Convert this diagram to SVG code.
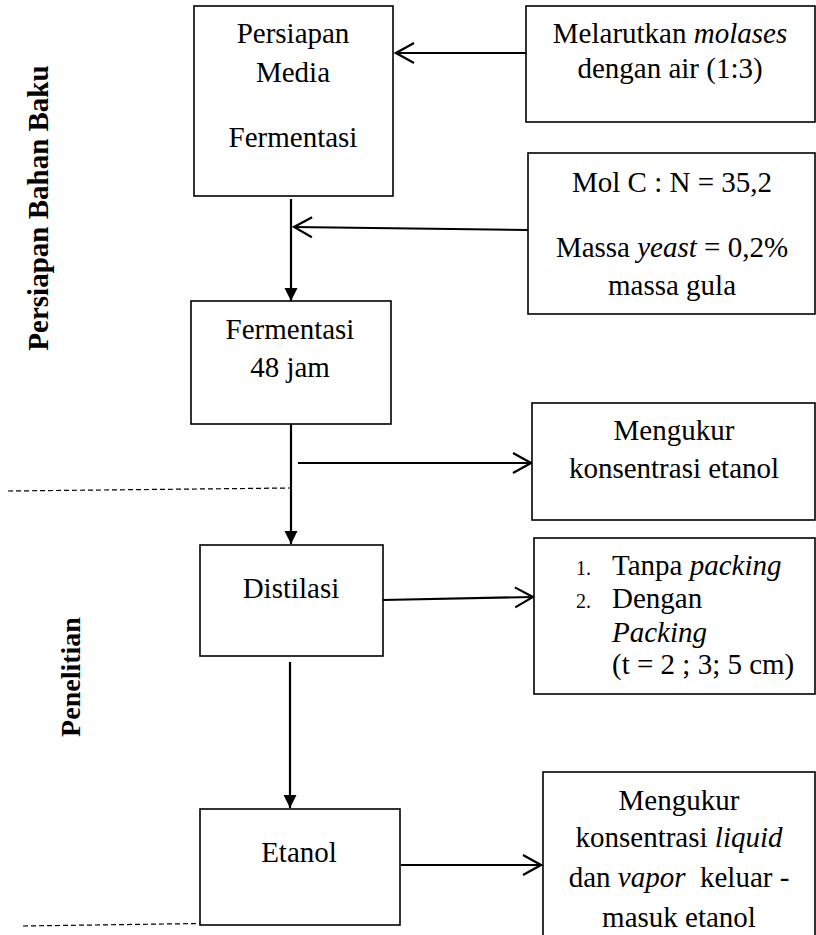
<svg xmlns="http://www.w3.org/2000/svg" width="816" height="935" viewBox="0 0 816 935">
<style>
.box{fill:#fff;stroke:#000;stroke-width:1.6}
.t{font-family:"Liberation Serif","Times New Roman",serif;font-size:29px;fill:#000;text-anchor:middle}
.l{text-anchor:start}
.n{font-size:20px;text-anchor:start}
.i{font-style:italic}
.lab{font-family:"Liberation Serif","Times New Roman",serif;font-weight:bold;fill:#000;text-anchor:middle}
.c{fill:none;stroke:#000;stroke-width:2.2}
.d{fill:none;stroke:#000;stroke-width:1.2;stroke-dasharray:5 3}
</style>
<defs>
<marker id="open" markerUnits="userSpaceOnUse" viewBox="-21 -12 23 24" refX="0" refY="0" markerWidth="23" markerHeight="24" orient="auto">
<path d="M-18,-10 L0,0 L-18,10" fill="none" stroke="#000" stroke-width="2.2"/>
</marker>
<marker id="fill" markerUnits="userSpaceOnUse" viewBox="-14 -8 15 16" refX="0" refY="0" markerWidth="15" markerHeight="16" orient="auto">
<path d="M-13,-6.5 L0,0 L-13,6.5 Z" fill="#000"/>
</marker>
</defs>
<g id="labels">
<text class="lab" font-size="29" transform="translate(48,208) rotate(-90)">Persiapan Bahan Baku</text>
<text class="lab" font-size="28" transform="translate(80,677) rotate(-90)">Penelitian</text>
</g>
<g id="connectors">
<path class="c" d="M526,53 L396,53" marker-end="url(#open)"/>
<path class="c" d="M528,230 L294,227" marker-end="url(#open)"/>
<path class="c" d="M291,199 L291,301" marker-end="url(#fill)"/>
<path class="c" d="M291,424 L291,544" marker-end="url(#fill)"/>
<path class="c" d="M298,463 L531,463" marker-end="url(#open)"/>
<path class="c" d="M383,600 L533,597" marker-end="url(#open)"/>
<path class="c" d="M290,662 L290,808" marker-end="url(#fill)"/>
<path class="c" d="M401,865 L541,865" marker-end="url(#open)"/>
<path class="d" d="M8,491 L290,488"/>
<path class="d" d="M23,926 L307,922"/>
</g>
<g id="n1">
<rect class="box" x="194" y="6" width="199" height="190"/>
<text class="t" x="293" y="43">Persiapan</text>
<text class="t" x="293" y="82">Media</text>
<text class="t" x="293" y="147">Fermentasi</text>
</g>
<g id="n2">
<rect class="box" x="526" y="6" width="289" height="116"/>
<text class="t" x="670" y="43">Melarutkan <tspan class="i">molases</tspan></text>
<text class="t" x="670" y="78">dengan air (1:3)</text>
</g>
<g id="n3">
<rect class="box" x="528" y="153" width="287" height="161"/>
<text class="t" x="672" y="192">Mol C : N = 35,2</text>
<text class="t" x="672" y="257">Massa <tspan class="i">yeast</tspan> = 0,2%</text>
<text class="t" x="672" y="295">massa gula</text>
</g>
<g id="n4">
<rect class="box" x="191" y="301" width="200" height="123"/>
<text class="t" x="290" y="339">Fermentasi</text>
<text class="t" x="290" y="377">48 jam</text>
</g>
<g id="n5">
<rect class="box" x="532" y="403" width="283" height="117"/>
<text class="t" x="674" y="440">Mengukur</text>
<text class="t" x="674" y="478">konsentrasi etanol</text>
</g>
<g id="n6">
<rect class="box" x="200" y="545" width="183" height="111"/>
<text class="t" x="291" y="598">Distilasi</text>
</g>
<g id="n7">
<rect class="box" x="534" y="538" width="281" height="156"/>
<text class="t n" x="576" y="575">1.</text>
<text class="t l" x="612" y="575">Tanpa <tspan class="i">packing</tspan></text>
<text class="t n" x="576" y="608">2.</text>
<text class="t l" x="612" y="608">Dengan</text>
<text class="t l i" x="612" y="642">Packing</text>
<text class="t l" x="612" y="674">(t = 2 ; 3; 5 cm)</text>
</g>
<g id="n8">
<rect class="box" x="200" y="809" width="200" height="116"/>
<text class="t" x="299" y="862">Etanol</text>
</g>
<g id="n9">
<rect class="box" x="543" y="772" width="272" height="175"/>
<text class="t" x="679" y="810">Mengukur</text>
<text class="t" x="679" y="847">konsentrasi <tspan class="i">liquid</tspan></text>
<text class="t" x="679" y="887" xml:space="preserve">dan <tspan class="i">vapor</tspan>  keluar -</text>
<text class="t" x="679" y="927">masuk etanol</text>
</g>
</svg>
